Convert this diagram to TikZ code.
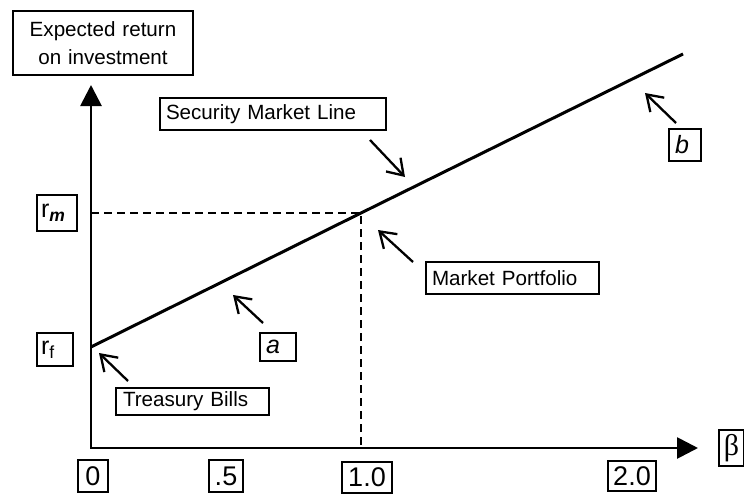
\documentclass[tikz,border=0pt]{standalone}
\usepackage{fontspec}
\setmainfont{Liberation Sans}
\newfontfamily\serifgreek{Liberation Serif}
\usetikzlibrary{arrows.meta}
\newcommand{\labfont}{\fontsize{20.6}{28}\selectfont}
\newcommand{\numfont}{\fontsize{27}{30}\selectfont}
\newcommand{\letfont}{\fontsize{25}{28}\selectfont}
\tikzset{
  box/.style={draw, line width=2pt, inner ysep=0pt, inner xsep=6pt, anchor=north west, align=left},
  cbox/.style={draw, line width=2pt, inner sep=0pt, anchor=north west, align=center},
  axisline/.style={line width=2.8pt, {Triangle[length=21pt,width=21pt]}-{Triangle[length=21pt,width=21pt]}},
  sml/.style={line width=3pt},
  guide/.style={line width=2pt, dash pattern=on 8pt off 5pt},
  pointer/.style={line width=2.3pt, -{Straight Barb[length=15pt,width=20pt,line width=2.3pt]}}
}
\begin{document}
\begin{tikzpicture}[x=1pt,y=-1pt]
\useasboundingbox (0,0) rectangle (744,495);
% boxes
\node[cbox, minimum width=180, minimum height=64, text width=180, font=\labfont] (ylab) at (12,10) {Expected return\\on investment};
\node[box, minimum height=32, text width=214, font=\labfont] (smlbox) at (159,97) {Security Market Line};
\node[box, minimum height=32, text width=161, font=\labfont] (mpbox) at (425,261) {Market Portfolio};
\node[box, minimum height=27, text width=139, inner xsep=7pt, font=\labfont] (tbbox) at (115,387) {Treasury Bills};
\node[box, minimum height=28, text width=24, font=\letfont] (abox) at (259,332) {\textit{a}};
\node[box, minimum height=32, text width=20, font=\letfont] (bbox) at (668,128) {\textit{b}};
\node[box, minimum height=36, text width=32, inner xsep=4pt, font=\letfont] (rmbox) at (36,194) {r\textsubscript{\textbf{\textit{m}}}};
\node[box, minimum height=33, text width=28, inner xsep=4pt, font=\letfont] (rfbox) at (36,332) {r\textsubscript{f}};
\node[cbox, minimum width=30, minimum height=32, font=\numfont] (n0) at (77,459) {0};
\node[cbox, minimum width=34, minimum height=32, font=\numfont] (n5) at (208,459) {.5};
\node[cbox, minimum width=50, minimum height=31, font=\numfont] (n10) at (341,461) {1.0};
\node[cbox, minimum width=48, minimum height=30, font=\numfont] (n20) at (607,460) {2.0};
\node[cbox, minimum width=25, minimum height=36, font=\fontsize{30}{32}\selectfont\serifgreek] (beta) at (718,429) {β};
% axes
\coordinate (O) at (91,448);
\coordinate (Ytip) at (91,85);
\coordinate (Xtip) at (698,448);
\draw[axisline] (Ytip) -- (O) -- (Xtip);
% security market line
\coordinate (rf) at (91,347);
\coordinate (M) at (361,213);
\coordinate (smlend) at (683,54);
\draw[sml] (rf) -- (M) -- (smlend);
% guides
\coordinate (Ym) at (91,213);
\coordinate (Xm) at (361,448);
\draw[guide] (Ym) -- (M) -- (Xm);
% pointers
\coordinate (p1s) at (370,140); \coordinate (p1e) at (405,177);
\coordinate (p2s) at (413,262); \coordinate (p2e) at (378,230);
\coordinate (p3s) at (263,323); \coordinate (p3e) at (233,295);
\coordinate (p4s) at (676,123); \coordinate (p4e) at (645,93);
\coordinate (p5s) at (128,381); \coordinate (p5e) at (99,353);
\draw[pointer] (p1s) -- (p1e);
\draw[pointer] (p2s) -- (p2e);
\draw[pointer] (p3s) -- (p3e);
\draw[pointer] (p4s) -- (p4e);
\draw[pointer] (p5s) -- (p5e);
\end{tikzpicture}
\end{document}
